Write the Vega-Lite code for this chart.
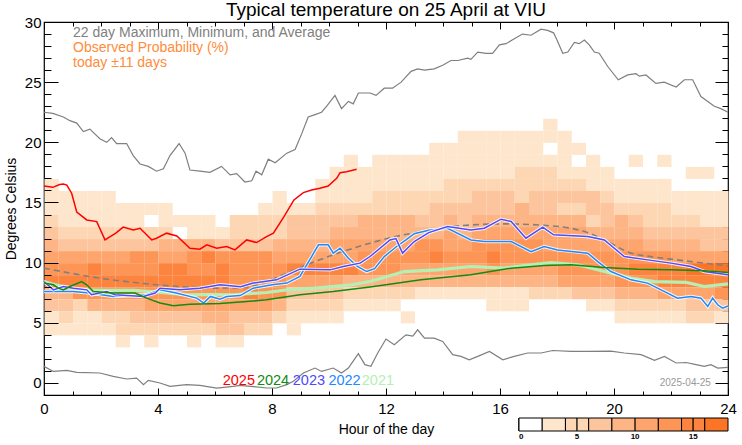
{
  "$schema": "https://vega.github.io/schema/vega-lite/v6.json",
  "width": 684,
  "height": 373,
  "autosize": {"type": "none"},
  "padding": {"left": 44, "top": 22, "right": 14, "bottom": 50},
  "title": {"text": "Typical temperature on 25 April at VIU", "fontSize": 19, "fontWeight": "normal", "font": "Liberation Sans", "color": "black", "offset": 6, "dy": 11, "anchor": "middle"},
  "config": {"view": {"stroke": "black", "strokeWidth": 1.2}, "font": "Liberation Sans"},
  "datasets": {
    "cells": [
      {"h":17.5,"t":21,"p":3},
      {"h":14.5,"t":20,"p":3},{"h":15,"t":20,"p":3},{"h":15.5,"t":20,"p":3},{"h":16,"t":20,"p":3},{"h":16.5,"t":20,"p":3},{"h":17,"t":20,"p":3},{"h":17.5,"t":20,"p":3},{"h":18,"t":20,"p":3},
      {"h":13.5,"t":19,"p":3},{"h":14,"t":19,"p":3},{"h":14.5,"t":19,"p":3},{"h":15,"t":19,"p":3},{"h":15.5,"t":19,"p":3},{"h":16,"t":19,"p":3},{"h":16.5,"t":19,"p":3},{"h":17,"t":19,"p":3},{"h":18,"t":19,"p":3},{"h":18.5,"t":19,"p":3},
      {"h":10.5,"t":18,"p":3},{"h":11.5,"t":18,"p":3},{"h":12,"t":18,"p":3},{"h":12.5,"t":18,"p":3},{"h":13,"t":18,"p":3},{"h":13.5,"t":18,"p":3},{"h":14,"t":18,"p":3},{"h":14.5,"t":18,"p":3},{"h":15,"t":18,"p":3},{"h":15.5,"t":18,"p":3},{"h":16,"t":18,"p":3},{"h":16.5,"t":18,"p":3},{"h":17,"t":18,"p":3},{"h":17.5,"t":18,"p":3},{"h":18,"t":18,"p":3},{"h":19,"t":18,"p":3},{"h":20.5,"t":18,"p":3},{"h":21.5,"t":18,"p":3},
      {"h":10,"t":17,"p":3},{"h":10.5,"t":17,"p":3},{"h":11,"t":17,"p":3},{"h":11.5,"t":17,"p":3},{"h":12,"t":17,"p":3},{"h":12.5,"t":17,"p":3},{"h":13,"t":17,"p":3},{"h":13.5,"t":17,"p":3},{"h":14,"t":17,"p":3},{"h":14.5,"t":17,"p":3},{"h":15,"t":17,"p":3},{"h":15.5,"t":17,"p":3},{"h":16,"t":17,"p":3},{"h":16.5,"t":17,"p":5},{"h":17,"t":17,"p":5},{"h":17.5,"t":17,"p":5},{"h":18,"t":17,"p":3},{"h":18.5,"t":17,"p":3},{"h":19,"t":17,"p":3},{"h":19.5,"t":17,"p":3},{"h":22.5,"t":17,"p":3},{"h":23,"t":17,"p":3},
      {"h":0,"t":16,"p":3},{"h":9.5,"t":16,"p":3},{"h":10,"t":16,"p":3},{"h":10.5,"t":16,"p":3},{"h":11,"t":16,"p":3},{"h":11.5,"t":16,"p":3},{"h":12,"t":16,"p":3},{"h":12.5,"t":16,"p":3},{"h":13,"t":16,"p":3},{"h":13.5,"t":16,"p":3},{"h":14,"t":16,"p":5},{"h":14.5,"t":16,"p":5},{"h":15,"t":16,"p":5},{"h":15.5,"t":16,"p":5},{"h":16,"t":16,"p":5},{"h":16.5,"t":16,"p":5},{"h":17,"t":16,"p":5},{"h":17.5,"t":16,"p":5},{"h":18,"t":16,"p":5},{"h":18.5,"t":16,"p":5},{"h":19,"t":16,"p":3},{"h":19.5,"t":16,"p":3},{"h":20,"t":16,"p":3},{"h":20.5,"t":16,"p":3},{"h":21,"t":16,"p":3},{"h":21.5,"t":16,"p":3},
      {"h":0,"t":15,"p":3},{"h":0.5,"t":15,"p":3},{"h":1,"t":15,"p":3},{"h":1.5,"t":15,"p":3},{"h":2,"t":15,"p":3},{"h":8,"t":15,"p":3},{"h":9.5,"t":15,"p":3},{"h":10,"t":15,"p":3},{"h":10.5,"t":15,"p":3},{"h":11,"t":15,"p":3},{"h":11.5,"t":15,"p":5},{"h":12,"t":15,"p":5},{"h":12.5,"t":15,"p":5},{"h":13,"t":15,"p":5},{"h":13.5,"t":15,"p":5},{"h":14,"t":15,"p":5},{"h":14.5,"t":15,"p":5},{"h":15,"t":15,"p":7},{"h":15.5,"t":15,"p":7},{"h":16,"t":15,"p":7},{"h":16.5,"t":15,"p":5},{"h":17,"t":15,"p":7},{"h":17.5,"t":15,"p":7},{"h":18,"t":15,"p":7},{"h":18.5,"t":15,"p":7},{"h":19,"t":15,"p":7},{"h":19.5,"t":15,"p":5},{"h":20,"t":15,"p":3},{"h":20.5,"t":15,"p":3},{"h":21,"t":15,"p":3},{"h":21.5,"t":15,"p":3},{"h":22,"t":15,"p":3},{"h":22.5,"t":15,"p":3},{"h":23,"t":15,"p":3},{"h":23.5,"t":15,"p":3},
      {"h":0,"t":14,"p":3},{"h":0.5,"t":14,"p":3},{"h":1,"t":14,"p":3},{"h":1.5,"t":14,"p":3},{"h":2,"t":14,"p":3},{"h":2.5,"t":14,"p":3},{"h":3,"t":14,"p":3},{"h":3.5,"t":14,"p":3},{"h":4,"t":14,"p":3},{"h":7.5,"t":14,"p":3},{"h":8,"t":14,"p":3},{"h":8.5,"t":14,"p":3},{"h":9,"t":14,"p":3},{"h":9.5,"t":14,"p":5},{"h":10,"t":14,"p":5},{"h":10.5,"t":14,"p":5},{"h":11,"t":14,"p":5},{"h":11.5,"t":14,"p":5},{"h":12,"t":14,"p":5},{"h":12.5,"t":14,"p":5},{"h":13,"t":14,"p":5},{"h":13.5,"t":14,"p":7},{"h":14,"t":14,"p":7},{"h":14.5,"t":14,"p":7},{"h":15,"t":14,"p":7},{"h":15.5,"t":14,"p":7},{"h":16,"t":14,"p":7},{"h":16.5,"t":14,"p":9},{"h":17,"t":14,"p":7},{"h":17.5,"t":14,"p":7},{"h":18,"t":14,"p":5},{"h":18.5,"t":14,"p":5},{"h":19,"t":14,"p":7},{"h":19.5,"t":14,"p":7},{"h":20,"t":14,"p":5},{"h":20.5,"t":14,"p":5},{"h":21,"t":14,"p":5},{"h":21.5,"t":14,"p":5},{"h":22,"t":14,"p":3},{"h":22.5,"t":14,"p":3},{"h":23,"t":14,"p":3},{"h":23.5,"t":14,"p":3},
      {"h":0,"t":13,"p":5},{"h":0.5,"t":13,"p":3},{"h":1,"t":13,"p":3},{"h":1.5,"t":13,"p":3},{"h":2,"t":13,"p":3},{"h":2.5,"t":13,"p":3},{"h":3,"t":13,"p":3},{"h":4,"t":13,"p":3},{"h":4.5,"t":13,"p":3},{"h":5,"t":13,"p":3},{"h":5.5,"t":13,"p":3},{"h":6.5,"t":13,"p":5},{"h":7,"t":13,"p":5},{"h":7.5,"t":13,"p":5},{"h":8,"t":13,"p":5},{"h":8.5,"t":13,"p":7},{"h":9,"t":13,"p":7},{"h":9.5,"t":13,"p":7},{"h":10,"t":13,"p":7},{"h":10.5,"t":13,"p":7},{"h":11,"t":13,"p":9},{"h":11.5,"t":13,"p":9},{"h":12,"t":13,"p":9},{"h":12.5,"t":13,"p":9},{"h":13,"t":13,"p":7},{"h":13.5,"t":13,"p":7},{"h":14,"t":13,"p":9},{"h":14.5,"t":13,"p":7},{"h":15,"t":13,"p":9},{"h":15.5,"t":13,"p":9},{"h":16,"t":13,"p":9},{"h":16.5,"t":13,"p":9},{"h":17,"t":13,"p":9},{"h":17.5,"t":13,"p":9},{"h":18,"t":13,"p":9},{"h":18.5,"t":13,"p":9},{"h":19,"t":13,"p":5},{"h":19.5,"t":13,"p":7},{"h":20,"t":13,"p":9},{"h":20.5,"t":13,"p":7},{"h":21,"t":13,"p":5},{"h":21.5,"t":13,"p":5},{"h":22,"t":13,"p":5},{"h":22.5,"t":13,"p":5},{"h":23,"t":13,"p":3},{"h":23.5,"t":13,"p":3},
      {"h":0,"t":12,"p":7},{"h":0.5,"t":12,"p":5},{"h":1,"t":12,"p":5},{"h":1.5,"t":12,"p":5},{"h":2,"t":12,"p":5},{"h":2.5,"t":12,"p":5},{"h":3,"t":12,"p":5},{"h":3.5,"t":12,"p":5},{"h":4,"t":12,"p":5},{"h":5,"t":12,"p":3},{"h":5.5,"t":12,"p":3},{"h":6,"t":12,"p":3},{"h":6.5,"t":12,"p":5},{"h":7,"t":12,"p":5},{"h":7.5,"t":12,"p":5},{"h":8,"t":12,"p":5},{"h":8.5,"t":12,"p":7},{"h":9,"t":12,"p":7},{"h":9.5,"t":12,"p":7},{"h":10,"t":12,"p":9},{"h":10.5,"t":12,"p":9},{"h":11,"t":12,"p":9},{"h":11.5,"t":12,"p":9},{"h":12,"t":12,"p":9},{"h":12.5,"t":12,"p":9},{"h":13,"t":12,"p":9},{"h":13.5,"t":12,"p":9},{"h":14,"t":12,"p":11},{"h":14.5,"t":12,"p":9},{"h":15,"t":12,"p":11},{"h":15.5,"t":12,"p":11},{"h":16,"t":12,"p":11},{"h":16.5,"t":12,"p":11},{"h":17,"t":12,"p":11},{"h":17.5,"t":12,"p":11},{"h":18,"t":12,"p":11},{"h":18.5,"t":12,"p":11},{"h":19,"t":12,"p":9},{"h":19.5,"t":12,"p":9},{"h":20,"t":12,"p":9},{"h":20.5,"t":12,"p":9},{"h":21,"t":12,"p":7},{"h":21.5,"t":12,"p":7},{"h":22,"t":12,"p":7},{"h":22.5,"t":12,"p":7},{"h":23,"t":12,"p":7},{"h":23.5,"t":12,"p":7},
      {"h":0,"t":11,"p":9},{"h":0.5,"t":11,"p":7},{"h":1,"t":11,"p":7},{"h":1.5,"t":11,"p":7},{"h":2,"t":11,"p":7},{"h":2.5,"t":11,"p":7},{"h":3,"t":11,"p":7},{"h":3.5,"t":11,"p":7},{"h":4,"t":11,"p":9},{"h":4.5,"t":11,"p":9},{"h":5,"t":11,"p":9},{"h":5.5,"t":11,"p":9},{"h":6,"t":11,"p":7},{"h":6.5,"t":11,"p":7},{"h":7,"t":11,"p":7},{"h":7.5,"t":11,"p":7},{"h":8,"t":11,"p":9},{"h":8.5,"t":11,"p":9},{"h":9,"t":11,"p":9},{"h":9.5,"t":11,"p":9},{"h":10,"t":11,"p":11},{"h":10.5,"t":11,"p":11},{"h":11,"t":11,"p":11},{"h":11.5,"t":11,"p":11},{"h":12,"t":11,"p":11},{"h":12.5,"t":11,"p":11},{"h":13,"t":11,"p":13},{"h":13.5,"t":11,"p":13},{"h":14,"t":11,"p":11},{"h":14.5,"t":11,"p":11},{"h":15,"t":11,"p":13},{"h":15.5,"t":11,"p":13},{"h":16,"t":11,"p":13},{"h":16.5,"t":11,"p":13},{"h":17,"t":11,"p":13},{"h":17.5,"t":11,"p":11},{"h":18,"t":11,"p":11},{"h":18.5,"t":11,"p":11},{"h":19,"t":11,"p":11},{"h":19.5,"t":11,"p":11},{"h":20,"t":11,"p":11},{"h":20.5,"t":11,"p":11},{"h":21,"t":11,"p":9},{"h":21.5,"t":11,"p":9},{"h":22,"t":11,"p":9},{"h":22.5,"t":11,"p":9},{"h":23,"t":11,"p":7},{"h":23.5,"t":11,"p":7},
      {"h":0,"t":10,"p":11},{"h":0.5,"t":10,"p":11},{"h":1,"t":10,"p":11},{"h":1.5,"t":10,"p":11},{"h":2,"t":10,"p":11},{"h":2.5,"t":10,"p":11},{"h":3,"t":10,"p":13},{"h":3.5,"t":10,"p":13},{"h":4,"t":10,"p":11},{"h":4.5,"t":10,"p":11},{"h":5,"t":10,"p":13},{"h":5.5,"t":10,"p":15},{"h":6,"t":10,"p":13},{"h":6.5,"t":10,"p":13},{"h":7,"t":10,"p":13},{"h":7.5,"t":10,"p":13},{"h":8,"t":10,"p":11},{"h":8.5,"t":10,"p":11},{"h":9,"t":10,"p":11},{"h":9.5,"t":10,"p":11},{"h":10,"t":10,"p":11},{"h":10.5,"t":10,"p":11},{"h":11,"t":10,"p":13},{"h":11.5,"t":10,"p":13},{"h":12,"t":10,"p":13},{"h":12.5,"t":10,"p":13},{"h":13,"t":10,"p":13},{"h":13.5,"t":10,"p":15},{"h":14,"t":10,"p":13},{"h":14.5,"t":10,"p":13},{"h":15,"t":10,"p":13},{"h":15.5,"t":10,"p":15},{"h":16,"t":10,"p":13},{"h":16.5,"t":10,"p":13},{"h":17,"t":10,"p":13},{"h":17.5,"t":10,"p":13},{"h":18,"t":10,"p":13},{"h":18.5,"t":10,"p":13},{"h":19,"t":10,"p":13},{"h":19.5,"t":10,"p":13},{"h":20,"t":10,"p":13},{"h":20.5,"t":10,"p":13},{"h":21,"t":10,"p":13},{"h":21.5,"t":10,"p":13},{"h":22,"t":10,"p":11},{"h":22.5,"t":10,"p":11},{"h":23,"t":10,"p":11},{"h":23.5,"t":10,"p":11},
      {"h":0,"t":9,"p":13},{"h":0.5,"t":9,"p":13},{"h":1,"t":9,"p":13},{"h":1.5,"t":9,"p":15},{"h":2,"t":9,"p":13},{"h":2.5,"t":9,"p":13},{"h":3,"t":9,"p":13},{"h":3.5,"t":9,"p":13},{"h":4,"t":9,"p":15},{"h":4.5,"t":9,"p":15},{"h":5,"t":9,"p":13},{"h":5.5,"t":9,"p":13},{"h":6,"t":9,"p":15},{"h":6.5,"t":9,"p":13},{"h":7,"t":9,"p":13},{"h":7.5,"t":9,"p":13},{"h":8,"t":9,"p":13},{"h":8.5,"t":9,"p":15},{"h":9,"t":9,"p":15},{"h":9.5,"t":9,"p":15},{"h":10,"t":9,"p":15},{"h":10.5,"t":9,"p":15},{"h":11,"t":9,"p":13},{"h":11.5,"t":9,"p":13},{"h":12,"t":9,"p":13},{"h":12.5,"t":9,"p":11},{"h":13,"t":9,"p":11},{"h":13.5,"t":9,"p":11},{"h":14,"t":9,"p":11},{"h":14.5,"t":9,"p":11},{"h":15,"t":9,"p":11},{"h":15.5,"t":9,"p":13},{"h":16,"t":9,"p":11},{"h":16.5,"t":9,"p":11},{"h":17,"t":9,"p":11},{"h":17.5,"t":9,"p":11},{"h":18,"t":9,"p":13},{"h":18.5,"t":9,"p":13},{"h":19,"t":9,"p":13},{"h":19.5,"t":9,"p":13},{"h":20,"t":9,"p":13},{"h":20.5,"t":9,"p":15},{"h":21,"t":9,"p":15},{"h":21.5,"t":9,"p":15},{"h":22,"t":9,"p":15},{"h":22.5,"t":9,"p":17},{"h":23,"t":9,"p":17},{"h":23.5,"t":9,"p":17},
      {"h":0,"t":8,"p":15},{"h":0.5,"t":8,"p":15},{"h":1,"t":8,"p":15},{"h":1.5,"t":8,"p":15},{"h":2,"t":8,"p":15},{"h":2.5,"t":8,"p":15},{"h":3,"t":8,"p":15},{"h":3.5,"t":8,"p":15},{"h":4,"t":8,"p":15},{"h":4.5,"t":8,"p":15},{"h":5,"t":8,"p":15},{"h":5.5,"t":8,"p":15},{"h":6,"t":8,"p":15},{"h":6.5,"t":8,"p":13},{"h":7,"t":8,"p":13},{"h":7.5,"t":8,"p":13},{"h":8,"t":8,"p":13},{"h":8.5,"t":8,"p":11},{"h":9,"t":8,"p":11},{"h":9.5,"t":8,"p":11},{"h":10,"t":8,"p":11},{"h":10.5,"t":8,"p":9},{"h":11,"t":8,"p":9},{"h":11.5,"t":8,"p":9},{"h":12,"t":8,"p":9},{"h":12.5,"t":8,"p":9},{"h":13,"t":8,"p":9},{"h":13.5,"t":8,"p":9},{"h":14,"t":8,"p":9},{"h":14.5,"t":8,"p":9},{"h":15,"t":8,"p":9},{"h":15.5,"t":8,"p":9},{"h":16,"t":8,"p":9},{"h":16.5,"t":8,"p":9},{"h":17,"t":8,"p":9},{"h":17.5,"t":8,"p":9},{"h":18,"t":8,"p":11},{"h":18.5,"t":8,"p":11},{"h":19,"t":8,"p":11},{"h":19.5,"t":8,"p":11},{"h":20,"t":8,"p":13},{"h":20.5,"t":8,"p":13},{"h":21,"t":8,"p":13},{"h":21.5,"t":8,"p":15},{"h":22,"t":8,"p":15},{"h":22.5,"t":8,"p":15},{"h":23,"t":8,"p":15},{"h":23.5,"t":8,"p":15},
      {"h":0,"t":7,"p":9},{"h":0.5,"t":7,"p":9},{"h":1,"t":7,"p":13},{"h":1.5,"t":7,"p":13},{"h":2,"t":7,"p":13},{"h":2.5,"t":7,"p":13},{"h":3,"t":7,"p":13},{"h":3.5,"t":7,"p":13},{"h":4,"t":7,"p":13},{"h":4.5,"t":7,"p":13},{"h":5,"t":7,"p":13},{"h":5.5,"t":7,"p":13},{"h":6,"t":7,"p":13},{"h":6.5,"t":7,"p":13},{"h":7,"t":7,"p":15},{"h":7.5,"t":7,"p":13},{"h":8,"t":7,"p":13},{"h":8.5,"t":7,"p":7},{"h":9,"t":7,"p":7},{"h":9.5,"t":7,"p":7},{"h":10,"t":7,"p":7},{"h":10.5,"t":7,"p":5},{"h":11,"t":7,"p":5},{"h":11.5,"t":7,"p":5},{"h":12,"t":7,"p":5},{"h":12.5,"t":7,"p":5},{"h":13,"t":7,"p":3},{"h":13.5,"t":7,"p":3},{"h":14,"t":7,"p":3},{"h":14.5,"t":7,"p":3},{"h":15,"t":7,"p":3},{"h":15.5,"t":7,"p":3},{"h":16,"t":7,"p":3},{"h":16.5,"t":7,"p":3},{"h":17,"t":7,"p":5},{"h":17.5,"t":7,"p":5},{"h":18,"t":7,"p":5},{"h":18.5,"t":7,"p":7},{"h":19,"t":7,"p":7},{"h":19.5,"t":7,"p":7},{"h":20,"t":7,"p":9},{"h":20.5,"t":7,"p":9},{"h":21,"t":7,"p":9},{"h":21.5,"t":7,"p":11},{"h":22,"t":7,"p":11},{"h":22.5,"t":7,"p":11},{"h":23,"t":7,"p":11},{"h":23.5,"t":7,"p":13},
      {"h":0,"t":6,"p":7},{"h":0.5,"t":6,"p":7},{"h":1,"t":6,"p":5},{"h":1.5,"t":6,"p":9},{"h":2,"t":6,"p":9},{"h":2.5,"t":6,"p":9},{"h":3,"t":6,"p":9},{"h":3.5,"t":6,"p":11},{"h":4,"t":6,"p":11},{"h":4.5,"t":6,"p":11},{"h":5,"t":6,"p":11},{"h":5.5,"t":6,"p":11},{"h":6,"t":6,"p":11},{"h":6.5,"t":6,"p":11},{"h":7,"t":6,"p":11},{"h":7.5,"t":6,"p":11},{"h":8,"t":6,"p":9},{"h":8.5,"t":6,"p":5},{"h":9,"t":6,"p":5},{"h":9.5,"t":6,"p":5},{"h":10,"t":6,"p":5},{"h":10.5,"t":6,"p":3},{"h":11,"t":6,"p":3},{"h":11.5,"t":6,"p":3},{"h":12,"t":6,"p":3},{"h":15.5,"t":6,"p":3},{"h":16,"t":6,"p":3},{"h":16.5,"t":6,"p":3},{"h":19,"t":6,"p":3},{"h":19.5,"t":6,"p":3},{"h":20,"t":6,"p":5},{"h":20.5,"t":6,"p":5},{"h":21,"t":6,"p":5},{"h":21.5,"t":6,"p":5},{"h":22,"t":6,"p":5},{"h":22.5,"t":6,"p":7},{"h":23,"t":6,"p":7},{"h":23.5,"t":6,"p":7},
      {"h":0,"t":5,"p":3},{"h":0.5,"t":5,"p":5},{"h":1,"t":5,"p":3},{"h":1.5,"t":5,"p":3},{"h":2,"t":5,"p":5},{"h":2.5,"t":5,"p":5},{"h":3,"t":5,"p":7},{"h":3.5,"t":5,"p":7},{"h":4,"t":5,"p":7},{"h":4.5,"t":5,"p":7},{"h":5,"t":5,"p":7},{"h":5.5,"t":5,"p":9},{"h":6,"t":5,"p":9},{"h":6.5,"t":5,"p":7},{"h":7,"t":5,"p":7},{"h":7.5,"t":5,"p":7},{"h":8,"t":5,"p":5},{"h":8.5,"t":5,"p":3},{"h":9,"t":5,"p":3},{"h":9.5,"t":5,"p":3},{"h":10,"t":5,"p":3},{"h":12.5,"t":5,"p":3},{"h":20,"t":5,"p":3},{"h":20.5,"t":5,"p":3},{"h":21,"t":5,"p":3},{"h":21.5,"t":5,"p":3},{"h":22,"t":5,"p":3},{"h":22.5,"t":5,"p":5},{"h":23,"t":5,"p":5},{"h":23.5,"t":5,"p":3},
      {"h":0,"t":4,"p":3},{"h":0.5,"t":4,"p":3},{"h":1,"t":4,"p":3},{"h":1.5,"t":4,"p":3},{"h":2,"t":4,"p":3},{"h":2.5,"t":4,"p":5},{"h":3,"t":4,"p":5},{"h":3.5,"t":4,"p":5},{"h":4,"t":4,"p":5},{"h":4.5,"t":4,"p":5},{"h":5,"t":4,"p":5},{"h":5.5,"t":4,"p":5},{"h":6,"t":4,"p":7},{"h":6.5,"t":4,"p":7},{"h":7,"t":4,"p":5},{"h":7.5,"t":4,"p":5},{"h":8.5,"t":4,"p":3},
      {"h":2.5,"t":3,"p":3},{"h":3.5,"t":3,"p":3},{"h":5,"t":3,"p":3},{"h":6,"t":3,"p":3},{"h":6.5,"t":3,"p":3}
    ],
    "tmax": [
      {"h":0,"t":22.5},{"h":0.31,"t":22.4},{"h":0.68,"t":22.1},{"h":0.91,"t":21.8},{"h":1.15,"t":21.6},{"h":1.38,"t":20.9},{"h":1.61,"t":21.1},{"h":1.96,"t":20.3},{"h":2.2,"t":20.0},{"h":2.37,"t":20.4},{"h":2.55,"t":19.9},{"h":2.9,"t":19.9},{"h":3.13,"t":18.9},{"h":3.37,"t":18.2},{"h":3.66,"t":18.0},{"h":3.95,"t":17.6},{"h":4.19,"t":17.8},{"h":4.42,"t":18.9},{"h":4.74,"t":19.9},{"h":4.95,"t":19.1},{"h":5.12,"t":17.7},{"h":5.47,"t":17.6},{"h":5.82,"t":17.5},{"h":6.23,"t":18.0},{"h":6.53,"t":17.3},{"h":6.76,"t":17.4},{"h":7.05,"t":16.7},{"h":7.29,"t":16.8},{"h":7.44,"t":17.6},{"h":7.64,"t":17.3},{"h":7.87,"t":18.6},{"h":8.11,"t":18.3},{"h":8.52,"t":19.1},{"h":8.81,"t":19.4},{"h":9.04,"t":20.7},{"h":9.27,"t":22.1},{"h":9.51,"t":22.3},{"h":9.74,"t":22.5},{"h":9.92,"t":23.0},{"h":10.21,"t":23.9},{"h":10.44,"t":22.8},{"h":10.68,"t":23.4},{"h":10.85,"t":23.2},{"h":11.03,"t":24.1},{"h":11.44,"t":24.1},{"h":11.65,"t":23.9},{"h":11.94,"t":24.5},{"h":12.23,"t":24.5},{"h":12.53,"t":25.0},{"h":12.88,"t":25.9},{"h":13.11,"t":26.1},{"h":13.35,"t":26.0},{"h":13.69,"t":26.1},{"h":13.99,"t":26.4},{"h":14.28,"t":26.8},{"h":14.52,"t":26.8},{"h":14.87,"t":27.0},{"h":14.98,"t":26.9},{"h":15.22,"t":27.5},{"h":15.51,"t":27.4},{"h":15.74,"t":27.4},{"h":15.98,"t":28.1},{"h":16.21,"t":28.2},{"h":16.5,"t":28.6},{"h":16.79,"t":29.0},{"h":17.09,"t":28.9},{"h":17.44,"t":29.4},{"h":17.67,"t":29.3},{"h":17.88,"t":29.1},{"h":18.02,"t":28.4},{"h":18.2,"t":27.4},{"h":18.38,"t":27.5},{"h":18.61,"t":28.3},{"h":18.78,"t":28.2},{"h":18.96,"t":28.5},{"h":19.13,"t":28.1},{"h":19.31,"t":27.5},{"h":19.48,"t":27.4},{"h":19.78,"t":26.3},{"h":20.15,"t":25.2},{"h":20.48,"t":25.6},{"h":20.77,"t":25.7},{"h":20.89,"t":25.5},{"h":21.12,"t":25.6},{"h":21.47,"t":24.9},{"h":21.76,"t":25.0},{"h":22.18,"t":24.6},{"h":22.47,"t":25.2},{"h":22.76,"t":25.2},{"h":23.05,"t":23.8},{"h":23.52,"t":23.0},{"h":23.75,"t":22.8},{"h":24,"t":22.5}
    ],
    "tmin": [
      {"h":0,"t":1.38},{"h":0.33,"t":0.96},{"h":0.8,"t":1.05},{"h":1.15,"t":0.88},{"h":1.96,"t":0.83},{"h":2.43,"t":0.55},{"h":2.9,"t":0.33},{"h":3.25,"t":0.4},{"h":3.49,"t":-0.14},{"h":3.66,"t":0.22},{"h":4.07,"t":0.0},{"h":4.42,"t":-0.28},{"h":5.0,"t":-0.14},{"h":5.47,"t":-0.2},{"h":6.06,"t":-0.42},{"h":6.64,"t":-0.28},{"h":6.88,"t":-0.2},{"h":7.34,"t":-0.3},{"h":7.81,"t":-0.42},{"h":8.16,"t":-0.42},{"h":8.52,"t":-0.14},{"h":8.75,"t":0.14},{"h":9.1,"t":0.83},{"h":9.51,"t":1.24},{"h":9.74,"t":0.96},{"h":10.15,"t":1.24},{"h":10.44,"t":0.83},{"h":10.68,"t":1.24},{"h":11.03,"t":2.43},{"h":11.26,"t":1.52},{"h":11.47,"t":1.38},{"h":11.71,"t":2.49},{"h":12.0,"t":3.65},{"h":12.29,"t":3.18},{"h":12.7,"t":4.0},{"h":12.94,"t":3.9},{"h":13.11,"t":4.42},{"h":13.35,"t":3.73},{"h":13.69,"t":3.73},{"h":13.99,"t":3.45},{"h":14.34,"t":2.35},{"h":14.63,"t":2.21},{"h":14.92,"t":1.93},{"h":15.22,"t":2.21},{"h":15.63,"t":2.62},{"h":16.1,"t":1.93},{"h":16.5,"t":2.21},{"h":16.97,"t":2.49},{"h":17.44,"t":2.49},{"h":17.85,"t":2.7},{"h":18.49,"t":2.62},{"h":19.08,"t":2.62},{"h":19.89,"t":2.65},{"h":20.36,"t":2.49},{"h":20.95,"t":2.35},{"h":21.42,"t":1.88},{"h":21.77,"t":2.21},{"h":22.18,"t":1.66},{"h":22.53,"t":1.7},{"h":22.88,"t":1.52},{"h":23.17,"t":1.38},{"h":23.4,"t":1.52},{"h":23.64,"t":1.24},{"h":24,"t":1.3}
    ],
    "tavg": [
      {"h":0,"t":9.54},{"h":1,"t":9.1},{"h":1.96,"t":8.71},{"h":3,"t":8.4},{"h":3.95,"t":8.16},{"h":5,"t":7.98},{"h":5.71,"t":7.88},{"h":6.5,"t":7.9},{"h":7.11,"t":7.97},{"h":7.8,"t":8.4},{"h":8.52,"t":9.13},{"h":9.3,"t":9.9},{"h":10.15,"t":10.65},{"h":11.44,"t":11.62},{"h":12.3,"t":12.15},{"h":13.23,"t":12.58},{"h":14.52,"t":13.05},{"h":16.15,"t":13.22},{"h":17.55,"t":13.1},{"h":18.5,"t":12.85},{"h":18.96,"t":12.58},{"h":19.66,"t":11.89},{"h":20.6,"t":10.79},{"h":21.3,"t":10.5},{"h":22.0,"t":10.29},{"h":23.17,"t":9.96},{"h":24,"t":9.73}
    ],
    "y2025": [
      {"h":0,"t":16.37},{"h":0.31,"t":16.26},{"h":0.55,"t":16.5},{"h":0.68,"t":16.54},{"h":0.8,"t":16.45},{"h":0.97,"t":15.77},{"h":1.15,"t":14.2},{"h":1.5,"t":13.55},{"h":1.85,"t":13.41},{"h":2.14,"t":11.89},{"h":2.52,"t":12.45},{"h":2.78,"t":12.95},{"h":3.13,"t":12.72},{"h":3.37,"t":12.86},{"h":3.78,"t":11.89},{"h":3.95,"t":12.03},{"h":4.3,"t":12.45},{"h":4.66,"t":12.22},{"h":5.12,"t":11.2},{"h":5.47,"t":11.12},{"h":5.71,"t":11.48},{"h":6.06,"t":11.2},{"h":6.41,"t":11.34},{"h":6.7,"t":11.06},{"h":7.11,"t":11.89},{"h":7.46,"t":11.67},{"h":7.81,"t":12.17},{"h":8.05,"t":12.45},{"h":8.42,"t":13.83},{"h":8.77,"t":15.21},{"h":9.1,"t":15.82},{"h":9.39,"t":16.04},{"h":9.68,"t":16.18},{"h":9.97,"t":16.37},{"h":10.27,"t":17.01},{"h":10.39,"t":17.48},{"h":10.62,"t":17.56},{"h":10.97,"t":17.76}
    ],
    "y2024": [
      {"h":0,"t":8.3},{"h":0.33,"t":8.16},{"h":0.5,"t":7.88},{"h":0.68,"t":7.74},{"h":0.91,"t":8.02},{"h":1.32,"t":8.43},{"h":1.5,"t":8.16},{"h":1.73,"t":7.6},{"h":2.43,"t":7.47},{"h":3.19,"t":7.47},{"h":3.6,"t":7.05},{"h":4.07,"t":6.64},{"h":4.54,"t":6.41},{"h":5.12,"t":6.55},{"h":6.18,"t":6.6},{"h":7.0,"t":6.75},{"h":7.81,"t":6.91},{"h":8.98,"t":7.33},{"h":10.15,"t":7.6},{"h":11.44,"t":7.97},{"h":13.23,"t":8.57},{"h":14.98,"t":8.99},{"h":16.39,"t":9.54},{"h":17.55,"t":9.76},{"h":18.49,"t":9.82},{"h":19.66,"t":9.59},{"h":20.83,"t":9.46},{"h":22.0,"t":9.4},{"h":23.17,"t":9.32},{"h":24,"t":9.18}
    ],
    "y2023": [
      {"h":0,"t":8.43},{"h":0.33,"t":7.74},{"h":0.68,"t":8.02},{"h":1.03,"t":7.88},{"h":1.5,"t":7.74},{"h":1.67,"t":7.33},{"h":2.2,"t":7.6},{"h":2.49,"t":7.33},{"h":3.49,"t":7.19},{"h":3.9,"t":7.47},{"h":4.07,"t":7.88},{"h":4.77,"t":7.74},{"h":5.47,"t":7.88},{"h":6.18,"t":8.16},{"h":6.9,"t":8.0},{"h":7.34,"t":8.3},{"h":8.16,"t":8.57},{"h":8.98,"t":9.46},{"h":10.04,"t":9.4},{"h":10.5,"t":9.68},{"h":11.09,"t":9.96},{"h":11.44,"t":10.51},{"h":12.14,"t":11.89},{"h":12.35,"t":12.0},{"h":12.58,"t":10.79},{"h":12.99,"t":11.75},{"h":13.5,"t":12.5},{"h":14.16,"t":13.0},{"h":14.98,"t":12.72},{"h":15.45,"t":12.86},{"h":16.04,"t":13.61},{"h":16.39,"t":13.42},{"h":16.91,"t":12.03},{"h":17.5,"t":12.95},{"h":17.88,"t":12.31},{"h":19.08,"t":12.17},{"h":19.66,"t":11.89},{"h":20.36,"t":10.51},{"h":21.18,"t":10.23},{"h":22.0,"t":9.96},{"h":22.7,"t":9.68},{"h":23.17,"t":9.26},{"h":24,"t":8.99}
    ],
    "y2022": [
      {"h":0,"t":7.6},{"h":1.03,"t":7.6},{"h":1.6,"t":7.47},{"h":2.43,"t":7.19},{"h":3.6,"t":7.33},{"h":4.07,"t":7.74},{"h":4.6,"t":7.5},{"h":5.36,"t":7.05},{"h":5.6,"t":6.64},{"h":5.84,"t":7.19},{"h":6.18,"t":6.97},{"h":6.41,"t":7.19},{"h":6.88,"t":7.26},{"h":7.34,"t":7.88},{"h":8.0,"t":8.16},{"h":8.52,"t":8.3},{"h":8.98,"t":8.85},{"h":9.39,"t":10.51},{"h":9.63,"t":11.48},{"h":9.97,"t":11.48},{"h":10.15,"t":10.79},{"h":10.39,"t":11.2},{"h":10.68,"t":10.37},{"h":11.0,"t":9.68},{"h":11.32,"t":9.26},{"h":11.6,"t":9.5},{"h":11.94,"t":10.5},{"h":12.35,"t":11.3},{"h":12.7,"t":11.9},{"h":12.99,"t":12.4},{"h":13.5,"t":12.7},{"h":14.16,"t":12.86},{"h":14.98,"t":11.89},{"h":15.45,"t":11.75},{"h":16.39,"t":11.75},{"h":17.09,"t":10.92},{"h":17.55,"t":11.34},{"h":18.02,"t":11.06},{"h":19.08,"t":10.79},{"h":19.43,"t":10.09},{"h":19.89,"t":9.26},{"h":20.6,"t":8.57},{"h":21.18,"t":8.3},{"h":21.65,"t":7.74},{"h":22.23,"t":7.05},{"h":22.7,"t":7.19},{"h":23.05,"t":7.05},{"h":23.29,"t":6.36},{"h":23.46,"t":7.05},{"h":23.64,"t":6.5},{"h":23.81,"t":6.22},{"h":24,"t":6.4}
    ],
    "y2021": [
      {"h":0,"t":8.43},{"h":0.39,"t":8.16},{"h":1.26,"t":7.74},{"h":2.0,"t":7.7},{"h":3.13,"t":7.69},{"h":4.0,"t":7.55},{"h":5.0,"t":7.33},{"h":5.8,"t":7.35},{"h":6.64,"t":7.33},{"h":7.81,"t":7.52},{"h":8.52,"t":7.74},{"h":9.51,"t":7.88},{"h":10.8,"t":8.16},{"h":11.44,"t":8.43},{"h":12.64,"t":9.26},{"h":13.81,"t":9.4},{"h":14.98,"t":9.68},{"h":16.15,"t":9.54},{"h":17.09,"t":9.82},{"h":17.79,"t":10.01},{"h":18.73,"t":9.82},{"h":19.66,"t":9.26},{"h":20.6,"t":8.71},{"h":21.42,"t":8.43},{"h":22.53,"t":8.36},{"h":23.17,"t":8.02},{"h":24,"t":8.23}
    ],
    "one": [{}]
  },
  "layer": [
    {
      "data": {"name": "cells"},
      "mark": {"type": "rect", "binSpacing": 0},
      "encoding": {
        "x": {"field": "h", "type": "quantitative", "bin": {"binned": true, "step": 0.5},
          "scale": {"domain": [0, 24], "nice": false, "zero": false},
          "axis": {"orient": "bottom", "values": [0,1,2,3,4,5,6,7,8,9,10,11,12,13,14,15,16,17,18,19,20,21,22,23,24],
            "format": "d",
            "labelExpr": "datum.value % 4 === 0 ? datum.label : ''",
            "tickSize": {"condition": {"test": "datum.value % 4 === 0", "value": -7}, "value": -4},
            "tickColor": "black", "tickWidth": 1, "domain": false, "grid": false,
            "labelFontSize": 15, "labelColor": "black", "labelPadding": 13, "labelFlush": false, "labelOverlap": false, "labelFont": "Liberation Sans",
            "title": "Hour of the day", "titleFontSize": 14, "titleFontWeight": "normal", "titleColor": "black", "titleFont": "Liberation Sans", "titlePadding": 3}},
        "y": {"field": "t", "type": "quantitative", "bin": {"binned": true, "step": 1},
          "scale": {"domain": [-1, 30], "nice": false, "zero": false},
          "axis": {"orient": "left", "values": [0,1,2,3,4,5,6,7,8,9,10,11,12,13,14,15,16,17,18,19,20,21,22,23,24,25,26,27,28,29,30],
            "format": "d",
            "labelExpr": "datum.value % 5 === 0 ? datum.label : ''",
            "tickSize": {"condition": {"test": "datum.value % 5 === 0", "value": -14}, "value": -7},
            "tickColor": "black", "tickWidth": 1, "domain": false, "grid": false,
            "labelFontSize": 15, "labelColor": "black", "labelPadding": 17, "labelOverlap": false, "labelFlush": false, "labelFont": "Liberation Sans",
            "title": "Degrees Celsius", "titleFontSize": 14, "titleFontWeight": "normal", "titleColor": "black", "titleFont": "Liberation Sans", "titlePadding": 6}},
        "color": {"field": "p", "type": "quantitative",
          "scale": {"type": "threshold", "domain": [2,4,6,8,10,12,14,16],
            "range": ["#ffffff","#fde6cc","#fdd6b4","#fdc59d","#fdb585","#fda56d","#fc9555","#fc843e","#fc7426"]},
          "legend": {"orient": "none", "legendX": 475, "legendY": 396, "direction": "horizontal", "type": "gradient",
            "gradientLength": 209, "gradientThickness": 13, "gradientStrokeColor": "black", "gradientStrokeWidth": 1,
            "title": null, "values": [-1, 0, 2, 4, 5, 6, 8, 10, 12, 14, 15, 16],
            "labelExpr": "datum.value % 5 === 0 ? datum.label : ''", "labelOverlap": false,
            "labelFontSize": 8, "labelFontWeight": "bold", "labelColor": "black", "labelFont": "Liberation Sans"}}
      }
    },
    {
      "data": {"name": "tmax"},
      "mark": {"type": "line", "color": "#7f7f7f", "strokeWidth": 1.2},
      "encoding": {
        "x": {"field": "h", "type": "quantitative",
          "axis": {"orient": "top", "values": [0,1,2,3,4,5,6,7,8,9,10,11,12,13,14,15,16,17,18,19,20,21,22,23,24], "labels": false, "title": null,
            "tickSize": {"condition": {"test": "datum.value % 4 === 0", "value": -7}, "value": -4},
            "tickColor": "black", "domain": false, "grid": false}},
        "y": {"field": "t", "type": "quantitative",
          "axis": {"orient": "right", "values": [0,1,2,3,4,5,6,7,8,9,10,11,12,13,14,15,16,17,18,19,20,21,22,23,24,25,26,27,28,29,30], "labels": false, "title": null,
            "tickSize": {"condition": {"test": "datum.value % 5 === 0", "value": -13}, "value": -6},
            "tickColor": "black", "domain": false, "grid": false}}
      }
    },
    {
      "data": {"name": "tmin"},
      "mark": {"type": "line", "color": "#7f7f7f", "strokeWidth": 1.2},
      "encoding": {"x": {"field": "h", "type": "quantitative", "axis": null}, "y": {"field": "t", "type": "quantitative", "axis": null}}
    },
    {
      "data": {"name": "tavg"},
      "mark": {"type": "line", "color": "#808080", "strokeWidth": 1.6, "strokeDash": [6, 4], "interpolate": "monotone"},
      "encoding": {"x": {"field": "h", "type": "quantitative", "axis": null}, "y": {"field": "t", "type": "quantitative", "axis": null}}
    },
    {
      "data": {"name": "y2021"},
      "mark": {"type": "line", "color": "#b4f0b4", "strokeWidth": 3.2},
      "encoding": {"x": {"field": "h", "type": "quantitative", "axis": null}, "y": {"field": "t", "type": "quantitative", "axis": null}}
    },
    {
      "data": {"name": "y2022"},
      "mark": {"type": "line", "color": "#ffffff", "strokeWidth": 3.4, "opacity": 0.85},
      "encoding": {"x": {"field": "h", "type": "quantitative", "axis": null}, "y": {"field": "t", "type": "quantitative", "axis": null}}
    },
    {
      "data": {"name": "y2022"},
      "mark": {"type": "line", "color": "#1e88ff", "strokeWidth": 1.5},
      "encoding": {"x": {"field": "h", "type": "quantitative", "axis": null}, "y": {"field": "t", "type": "quantitative", "axis": null}}
    },
    {
      "data": {"name": "y2023"},
      "mark": {"type": "line", "color": "#ffffff", "strokeWidth": 3.4, "opacity": 0.85},
      "encoding": {"x": {"field": "h", "type": "quantitative", "axis": null}, "y": {"field": "t", "type": "quantitative", "axis": null}}
    },
    {
      "data": {"name": "y2023"},
      "mark": {"type": "line", "color": "#4b4bff", "strokeWidth": 1.5},
      "encoding": {"x": {"field": "h", "type": "quantitative", "axis": null}, "y": {"field": "t", "type": "quantitative", "axis": null}}
    },
    {
      "data": {"name": "y2024"},
      "mark": {"type": "line", "color": "#138a13", "strokeWidth": 1.5},
      "encoding": {"x": {"field": "h", "type": "quantitative", "axis": null}, "y": {"field": "t", "type": "quantitative", "axis": null}}
    },
    {
      "data": {"name": "y2025"},
      "mark": {"type": "line", "color": "#ff0000", "strokeWidth": 1.5},
      "encoding": {"x": {"field": "h", "type": "quantitative", "axis": null}, "y": {"field": "t", "type": "quantitative", "axis": null}}
    },
    {
      "data": {"name": "one"},
      "mark": {"type": "text", "align": "left", "baseline": "alphabetic", "fontSize": 14, "color": "#808080"},
      "encoding": {"x": {"datum": 1.02, "type": "quantitative", "axis": null}, "y": {"datum": 28.76, "type": "quantitative", "axis": null}, "text": {"value": "22 day Maximum, Minimum, and Average"}}
    },
    {
      "data": {"name": "one"},
      "mark": {"type": "text", "align": "left", "baseline": "alphabetic", "fontSize": 14, "color": "#ff8c3a"},
      "encoding": {"x": {"datum": 1.02, "type": "quantitative", "axis": null}, "y": {"datum": 27.47, "type": "quantitative", "axis": null}, "text": {"value": "Observed Probability (%)"}}
    },
    {
      "data": {"name": "one"},
      "mark": {"type": "text", "align": "left", "baseline": "alphabetic", "fontSize": 14, "color": "#ff8c3a"},
      "encoding": {"x": {"datum": 1.02, "type": "quantitative", "axis": null}, "y": {"datum": 26.27, "type": "quantitative", "axis": null}, "text": {"value": "today ±11 days"}}
    },
    {
      "data": {"name": "one"},
      "mark": {"type": "text", "align": "left", "baseline": "alphabetic", "fontSize": 14.5, "color": "#ff0000"},
      "encoding": {"x": {"datum": 6.27, "type": "quantitative", "axis": null}, "y": {"datum": -0.14, "type": "quantitative", "axis": null}, "text": {"value": "2025"}}
    },
    {
      "data": {"name": "one"},
      "mark": {"type": "text", "align": "left", "baseline": "alphabetic", "fontSize": 14.5, "color": "#138a13"},
      "encoding": {"x": {"datum": 7.47, "type": "quantitative", "axis": null}, "y": {"datum": -0.14, "type": "quantitative", "axis": null}, "text": {"value": "2024"}}
    },
    {
      "data": {"name": "one"},
      "mark": {"type": "text", "align": "left", "baseline": "alphabetic", "fontSize": 14.5, "color": "#4b4bff"},
      "encoding": {"x": {"datum": 8.73, "type": "quantitative", "axis": null}, "y": {"datum": -0.14, "type": "quantitative", "axis": null}, "text": {"value": "2023"}}
    },
    {
      "data": {"name": "one"},
      "mark": {"type": "text", "align": "left", "baseline": "alphabetic", "fontSize": 14.5, "color": "#1e88ff"},
      "encoding": {"x": {"datum": 9.98, "type": "quantitative", "axis": null}, "y": {"datum": -0.14, "type": "quantitative", "axis": null}, "text": {"value": "2022"}}
    },
    {
      "data": {"name": "one"},
      "mark": {"type": "text", "align": "left", "baseline": "alphabetic", "fontSize": 14.5, "color": "#b4f0b4"},
      "encoding": {"x": {"datum": 11.15, "type": "quantitative", "axis": null}, "y": {"datum": -0.14, "type": "quantitative", "axis": null}, "text": {"value": "2021"}}
    },
    {
      "data": {"name": "one"},
      "mark": {"type": "text", "align": "right", "baseline": "alphabetic", "fontSize": 10, "color": "#999999"},
      "encoding": {"x": {"datum": 23.4, "type": "quantitative", "axis": null}, "y": {"datum": -0.27, "type": "quantitative", "axis": null}, "text": {"value": "2025-04-25"}}
    }
  ],
  "resolve": {"axis": {"x": "independent", "y": "independent"}}
}
